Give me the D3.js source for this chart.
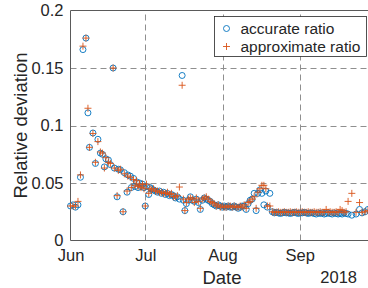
<!DOCTYPE html>
<html lang="en">
  <head>
    <meta charset="UTF-8" />
    <title>Relative deviation</title>
    <script src="https://d3js.org/d3.v7.min.js"></script>
    <style>
      body {
        margin: 0;
        padding: 0;
        background-color: #fff;
        overflow: hidden;
      }
      text {
        font-family: "Liberation Sans", Arial, Helvetica, sans-serif;
        fill: #262626;
      }
    </style>
  </head>
  <body>
    <div id="chart"></div>

    <script>
      // days after 1 June 2018
      const days = [
        0, 1, 2, 3, 4, 5, 6.2, 7, 7.6, 9, 10, 11, 12, 12.8, 13.6, 14.2, 15.2, 16, 17.1, 17.6,
        18.7, 19.2, 20, 21.1, 21.6, 22.7, 23, 24, 24.4, 25.3, 25.9, 26.5, 27.1, 27.7, 28.3, 28.9,
        29.5, 30, 30.5, 31.4, 31.9, 32.5, 33.3, 34.1, 34.9, 35.7, 36.5, 37.3, 38.1, 38.9, 39.7,
        40.5, 41.3, 42.1, 42.9, 43.7, 44.8, 45.3, 45.9, 46.5, 47.3, 48.1, 48.9, 49.7, 50.5, 51.3,
        52.1, 52.9, 53.7, 54.5, 55.3, 56.1, 56.9, 57.7, 58.5, 59.3, 60.1, 60.9, 61.7, 62.5, 63.3,
        64.1, 64.9, 65.7, 66.5, 67.3, 68.1, 68.9, 69.7, 70.5, 71.3, 72.1, 72.9, 73.7, 74.5, 75.2,
        76, 76.8, 77.6, 78.4, 79, 80,
        81, 81.8, 82.6, 83.4, 84.2, 85, 85.8, 86.6, 87.4, 88.2, 89, 89.8, 90.6, 91.4, 92.2, 93,
        93.8, 94.6, 95.4, 96.2, 97, 97.8, 98.6, 99.4, 100.2, 101, 101.8, 102.6, 103.4, 104.2, 105,
        105.8, 106.6, 107.4, 108.2, 109, 109.8, 110.6,
        111.4, 112.9, 114.6, 116, 117, 118.2, 119.4,
      ];

      const accurate = [
        0.03, 0.031, 0.029, 0.031, 0.055, 0.166, 0.176, 0.111, 0.081, 0.0935, 0.067, 0.088, 0.076,
        0.075, 0.064, 0.071, 0.07, 0.066, 0.15, 0.063, 0.038, 0.062, 0.0615, 0.025, 0.059, 0.042,
        0.057, 0.056, 0.046, 0.054, 0.047, 0.051, 0.046, 0.05, 0.047, 0.049, 0.046, 0.03, 0.047,
        0.04, 0.046, 0.045, 0.044, 0.043, 0.042, 0.043, 0.041, 0.042, 0.04, 0.041, 0.039, 0.04,
        0.039, 0.037, 0.038, 0.036, 0.1435, 0.035, 0.026, 0.032, 0.035, 0.038, 0.035, 0.034, 0.036,
        0.033, 0.027, 0.035, 0.037, 0.036, 0.035, 0.034, 0.032, 0.031, 0.03, 0.031, 0.03, 0.029,
        0.03, 0.029, 0.03, 0.029, 0.029, 0.03, 0.029, 0.028, 0.029, 0.03, 0.03, 0.027, 0.032, 0.035,
        0.036, 0.041, 0.026, 0.041, 0.044, 0.041, 0.031, 0.043, 0.029, 0.041,
        0.025, 0.024, 0.0245, 0.024, 0.0235, 0.024, 0.0245, 0.024, 0.024, 0.0235, 0.024, 0.0245,
        0.024, 0.0235, 0.024, 0.024, 0.0245, 0.024, 0.0235, 0.024, 0.024, 0.0235, 0.023, 0.024,
        0.0235, 0.024, 0.023, 0.0235, 0.024, 0.0235, 0.023, 0.024, 0.0235, 0.023, 0.0235, 0.023,
        0.024, 0.0235,
        0.023, 0.022, 0.023, 0.027, 0.024, 0.025, 0.027,
      ];

      const approximate = [
        0.03, 0.03, 0.03, 0.034, 0.057, 0.169, 0.176, 0.115, 0.081, 0.093, 0.068, 0.086, 0.077,
        0.076, 0.063, 0.072, 0.068, 0.067, 0.15, 0.063, 0.039, 0.061, 0.062, 0.025, 0.058, 0.043,
        0.056, 0.055, 0.046, 0.053, 0.048, 0.052, 0.047, 0.049, 0.046, 0.049, 0.045, 0.03, 0.049,
        0.041, 0.045, 0.044, 0.045, 0.043, 0.043, 0.042, 0.042, 0.041, 0.041, 0.042, 0.04, 0.041,
        0.038, 0.038, 0.039, 0.0465, 0.135, 0.036, 0.026, 0.033, 0.036, 0.037, 0.036, 0.033, 0.037,
        0.034, 0.028, 0.036, 0.037, 0.038, 0.036, 0.034, 0.033, 0.032, 0.03, 0.031, 0.029, 0.03,
        0.029, 0.029, 0.03, 0.03, 0.029, 0.03, 0.029, 0.029, 0.03, 0.029, 0.031, 0.028, 0.033,
        0.034, 0.036, 0.038, 0.028, 0.042, 0.045, 0.048, 0.048, 0.045, 0.03, 0.03,
        0.025, 0.0245, 0.0245, 0.025, 0.0245, 0.0245, 0.025, 0.0245, 0.0245, 0.025, 0.0245, 0.0245,
        0.025, 0.0245, 0.0245, 0.025, 0.0245, 0.0245, 0.025, 0.0245, 0.0245, 0.025, 0.0245, 0.0245,
        0.025, 0.0245, 0.0245, 0.027, 0.0245, 0.025, 0.0245, 0.0245, 0.025, 0.0245, 0.027, 0.026,
        0.0245, 0.025,
        0.034, 0.041, 0.0245, 0.033, 0.0245, 0.025, 0.026,
      ];

      const yTicks = [0, 0.05, 0.1, 0.15, 0.2];
      const monthTicks = ["2018-06-01", "2018-07-01", "2018-08-01", "2018-09-01"];
      const seriesNames = ["accurate ratio", "approximate ratio"];

      const width = 368;
      const height = 288;
      const margin = { top: 10.5, left: 70.5, bottom: 47.5 };
      const blue = "#0072BD";
      const orange = "#D95319";

      const start = new Date(2018, 5, 1);
      const toDate = (d) => new Date(start.getTime() + d * 864e5);

      const x = d3
        .scaleTime()
        .domain([start, new Date(2018, 9, 1)])
        .range([margin.left, 374.5]);
      const y = d3
        .scaleLinear()
        .domain([0, 0.2])
        .range([height - margin.bottom, margin.top]);

      const svg = d3.select("#chart").append("svg").attr("width", width).attr("height", height);

      const tickDates = monthTicks.map((s) => d3.timeParse("%Y-%m-%d")(s));

      // dashed grid
      const grid = svg.append("g").attr("stroke", "#8f8f8f").attr("stroke-width", 1).attr("stroke-dasharray", "6,4");
      grid
        .selectAll("line.h")
        .data(yTicks.slice(1, -1))
        .join("line")
        .attr("x1", margin.left)
        .attr("x2", 374.5)
        .attr("y1", (d) => Math.round(y(d)) + 0.5)
        .attr("y2", (d) => Math.round(y(d)) + 0.5);
      grid
        .selectAll("line.v")
        .data(tickDates.slice(1))
        .join("line")
        .attr("x1", (d) => Math.round(x(d)) + 0.5)
        .attr("x2", (d) => Math.round(x(d)) + 0.5)
        .attr("y1", y(0))
        .attr("y2", y(0.2));

      // axes box
      const box = svg.append("g").attr("stroke", "#5a5a5a").attr("stroke-width", 1).attr("fill", "none");
      box.append("line").attr("x1", margin.left).attr("x2", margin.left).attr("y1", y(0)).attr("y2", y(0.2));
      box.append("line").attr("x1", margin.left).attr("x2", 374.5).attr("y1", y(0)).attr("y2", y(0));
      box.append("line").attr("x1", margin.left).attr("x2", 374.5).attr("y1", y(0.2)).attr("y2", y(0.2));

      const yAxis = d3.axisLeft(y).tickValues(yTicks).tickFormat(d3.format("")).tickSize(0).tickPadding(7);
      svg
        .append("g")
        .attr("transform", `translate(${margin.left},0)`)
        .call(yAxis)
        .call((g) => g.select(".domain").remove())
        .selectAll("text")
        .attr("font-size", 16.5)
        .attr("font-family", null)
        .attr("fill", "#262626");

      const xAxis = d3.axisBottom(x).tickValues(tickDates).tickFormat(d3.timeFormat("%b")).tickSize(0).tickPadding(9);
      svg
        .append("g")
        .attr("transform", `translate(0,${y(0)})`)
        .call(xAxis)
        .call((g) => g.select(".domain").remove())
        .selectAll("text")
        .attr("font-size", 16.5)
        .attr("font-family", null)
        .attr("fill", "#262626");

      svg.append("text").attr("x", 222).attr("y", 284).attr("text-anchor", "middle").attr("font-size", 18.5).text("Date");
      svg.append("text").attr("x", 357).attr("y", 283).attr("text-anchor", "end").attr("font-size", 16.5).text("2018");
      svg
        .append("text")
        .attr("transform", `translate(27,${(y(0) + y(0.2)) / 2}) rotate(-90)`)
        .attr("text-anchor", "middle")
        .attr("font-size", 18.5)
        .text("Relative deviation");

      const points = days.map((d, i) => ({ date: toDate(d), acc: accurate[i], app: approximate[i] }));

      const plus = (cx, cy, s) => `M${cx - s},${cy}H${cx + s}M${cx},${cy - s}V${cy + s}`;

      svg
        .append("g")
        .selectAll("circle")
        .data(points)
        .join("circle")
        .attr("cx", (d) => x(d.date))
        .attr("cy", (d) => y(d.acc))
        .attr("r", 3)
        .attr("fill", "none")
        .attr("stroke", blue)
        .attr("stroke-width", 0.9);

      svg
        .append("g")
        .selectAll("path")
        .data(points)
        .join("path")
        .attr("d", (d) => plus(x(d.date), y(d.app), 3.5))
        .attr("fill", "none")
        .attr("stroke", orange)
        .attr("stroke-width", 0.9);

      // legend
      const legend = svg.append("g").attr("transform", "translate(214.5,16.5)");
      legend.append("rect").attr("width", 152).attr("height", 40).attr("fill", "#fff").attr("stroke", "#262626").attr("stroke-width", 0.8);
      legend.append("circle").attr("cx", 12).attr("cy", 12).attr("r", 3).attr("fill", "none").attr("stroke", blue).attr("stroke-width", 0.9);
      legend.append("path").attr("d", plus(12, 30, 3.5)).attr("stroke", orange).attr("stroke-width", 0.9);
      legend
        .selectAll("text")
        .data(seriesNames)
        .join("text")
        .attr("x", 26)
        .attr("y", (d, i) => 17.5 + i * 18)
        .attr("font-size", 15.5)
        .text((d) => d);
    </script>
  </body>
</html>
